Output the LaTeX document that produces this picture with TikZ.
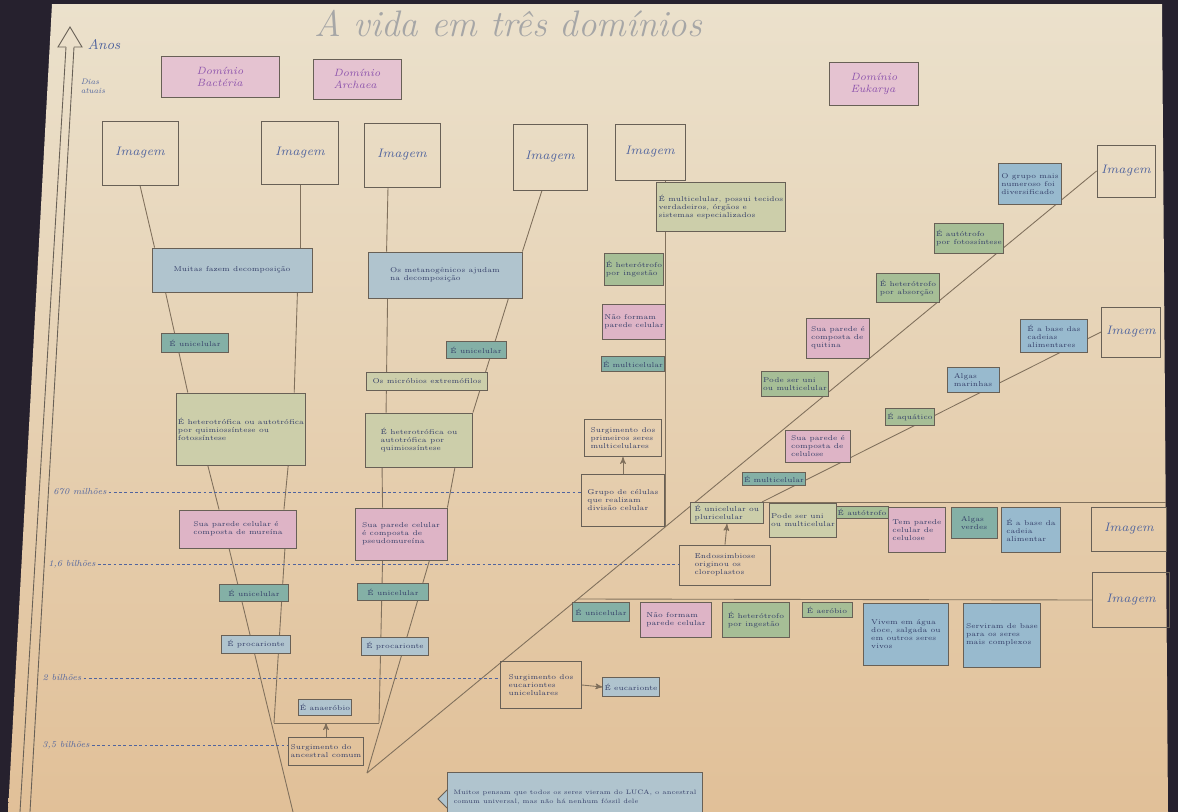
\documentclass[tikz,border=0pt]{standalone}
\usepackage{tikz}
\usetikzlibrary{arrows,calc}
\pgfdeclarelayer{paper}
\pgfdeclarelayer{lines}
\pgfsetlayers{paper,lines,main}

\definecolor{frame}{RGB}{38,33,46}
\definecolor{paperhi}{RGB}{235,225,204}
\definecolor{paperlo}{RGB}{225,192,152}
\definecolor{ink}{RGB}{52,62,104}
\definecolor{violet}{RGB}{140,82,172}
\definecolor{edge}{RGB}{104,96,86}
\definecolor{wire}{RGB}{128,112,92}
\definecolor{timeink}{RGB}{80,100,158}
\definecolor{pinkfill}{RGB}{222,180,198}
\definecolor{bluefill}{RGB}{152,186,206}
\definecolor{greenfill}{RGB}{166,190,150}
\definecolor{tealfill}{RGB}{132,176,166}
\definecolor{olivefill}{RGB}{204,206,170}
\definecolor{greyfill}{RGB}{176,196,206}

\begin{document}
\begin{tikzpicture}[x=0.02cm,y=-0.02cm,>=stealth',thin,
                    sz/.style 2 args={minimum width=#1*0.02cm,minimum height=#2*0.02cm}]
  \tikzstyle{every node}=[font=\fontsize{4}{4.6}\selectfont,text=ink]
  \tikzstyle{box}=[draw=edge,line width=0.5pt,inner sep=1pt,align=left]
  \tikzstyle{pinkbox}=[box,fill=pinkfill]
  \tikzstyle{bluebox}=[box,fill=bluefill]
  \tikzstyle{greenbox}=[box,fill=greenfill]
  \tikzstyle{tealbox}=[box,fill=tealfill]
  \tikzstyle{olivebox}=[box,fill=olivefill]
  \tikzstyle{greybox}=[box,fill=greyfill]
  \tikzstyle{plainbox}=[box]
  \tikzstyle{imgbox}=[box,font=\fontsize{7}{8}\selectfont\itshape,text=timeink]
  \tikzstyle{domainbox}=[box,fill=pinkfill!80,font=\fontsize{6}{6.6}\selectfont\itshape,text=violet]
  \tikzstyle{timelabel}=[font=\fontsize{5}{6}\selectfont\itshape,text=timeink,inner sep=1pt]
  \tikzstyle{dotline}=[timeink,line width=0.5pt,dash pattern=on 1.6pt off 1.4pt]
  \tikzstyle{link}=[wire,line width=0.5pt]

  \useasboundingbox (0,0) rectangle (1178,812);

  % photo of the poster
  \begin{pgfonlayer}{paper}
    \fill[frame] (0,0) rectangle (1178,812);
    \shade[top color=paperhi,bottom color=paperlo] (52,4) -- (1162,4) -- (1168,812) -- (8,812) -- cycle;
  \end{pgfonlayer}

  \node[font=\fontsize{21}{24}\selectfont\itshape,text=black!35] (title) at (508,24) {A vida em três domínios};

  % time axis
  \draw[edge,line width=0.5pt] (66,47) -- (20,812) (74,47) -- (30,812);
  \draw[edge,line width=0.5pt] (66,47) -- (58,47) -- (70,27) -- (82,47) -- (74,47);
  \node[timelabel,font=\fontsize{8}{9}\selectfont\itshape] (anos) at (104,45) {Anos};
  \node[timelabel,align=left,font=\fontsize{4.5}{5}\selectfont\itshape] (hoje) at (93,86) {Dias\\atuais};
  \node[timelabel] (t670) at (80,492) {670 milhões};
  \node[timelabel] (t16)  at (72,564) {1,6 bilhões};
  \node[timelabel] (t2)   at (62,678) {2 bilhões};
  \node[timelabel] (t35)  at (66,745) {3,5 bilhões};

  % domains
  \node[domainbox,sz={118}{41}] (dbac) at (220,77) {Domínio\\Bactéria};
  \node[domainbox,sz={88}{40}]  (darc) at (357,79) {Domínio\\Archaea};
  \node[domainbox,sz={89}{43}]  (deuk) at (874,84) {Domínio\\Eukarya};

  % pictures
  \node[imgbox,sz={76}{64}] (i1) at (140,153) {Imagem};
  \node[imgbox,sz={77}{63}] (i2) at (300,153) {Imagem};
  \node[imgbox,sz={76}{64}] (i3) at (402,155) {Imagem};
  \node[imgbox,sz={74}{66}] (i4) at (550,157) {Imagem};
  \node[imgbox,sz={70}{56}] (i5) at (650,152) {Imagem};
  \node[imgbox,sz={58}{52}] (i6) at (1126,171) {Imagem};
  \node[imgbox,sz={59}{50}] (i7) at (1131,332) {Imagem};
  \node[imgbox,sz={75}{44}] (i8) at (1129,529) {Imagem};
  \node[imgbox,sz={77}{55}] (i9) at (1131,600) {Imagem};

  % Bacteria
  \node[greybox,sz={160}{44}]  (b1)  at (232,270) {Muitas fazem decomposição};
  \node[tealbox,sz={67}{19}]   (bu1) at (195,343) {É unicelular};
  \node[olivebox,sz={126}{72}] (b2)  at (241,429) {É heterotrófica ou autotrófica\\por quimiossíntese ou\\fotossíntese};
  \node[pinkbox,sz={117}{38}]  (b3)  at (238,529) {Sua parede celular é\\composta de mureína};
  \node[tealbox,sz={69}{17}]   (bu2) at (254,593) {É unicelular};
  \node[greybox,sz={69}{18}]   (bp)  at (256,644) {É procarionte};

  % Archaea
  \node[greybox,sz={154}{46}]  (a1)  at (445,275) {Os metanogênicos ajudam\\na decomposição};
  \node[tealbox,sz={60}{17}]   (au1) at (476,350) {É unicelular};
  \node[olivebox,sz={121}{18}] (ax)  at (427,381) {Os micróbios extremófilos};
  \node[olivebox,sz={107}{54}] (a2)  at (419,440) {É heterotrófica ou\\autotrófica por\\quimiossíntese};
  \node[pinkbox,sz={92}{52}]   (a3)  at (401,534) {Sua parede celular\\é composta de\\pseudomureína};
  \node[tealbox,sz={71}{17}]   (au2) at (393,592) {É unicelular};
  \node[greybox,sz={67}{18}]   (ap)  at (395,646) {É procarionte};

  % common ancestor
  \node[greybox,sz={50}{16}]   (anaer) at (325,707) {É anaeróbio};
  \node[plainbox,sz={75}{28}]  (luca)  at (326,751) {Surgimento do\\ancestral comum};
  \coordinate (barL)  at (274,723);
  \coordinate (barR)  at (379,723);
  \coordinate (bbot)  at (293,812);
  \coordinate (split) at (367,773);

  % Eukarya, first branch
  \node[olivebox,sz={116}{49}] (etop) at (721,207) {É multicelular, possui tecidos\\verdadeiros, órgãos e\\sistemas especializados};
  \node[greenbox,sz={55}{32}]  (e1) at (634,269) {É heterótrofo\\por ingestão};
  \node[pinkbox,sz={55}{35}]   (e2) at (634,322) {Não formam\\parede celular};
  \node[tealbox,sz={57}{15}]   (e3) at (633,364) {É multicelular};
  \node[plainbox,sz={77}{37}]  (e4) at (623,438) {Surgimento dos\\primeiros seres\\multicelulares};
  \node[plainbox,sz={83}{52}]  (e5) at (623,500) {Grupo de células\\que realizam\\divisão celular};
  \coordinate (ev)  at (665,527);
  \coordinate (h1s) at (696,502);
  \coordinate (h1e) at (1166,502);
  \coordinate (h2s) at (578,599);
  \coordinate (d2s) at (762,502);

  % along the long diagonal
  \node[bluebox,sz={63}{41}]  (d1) at (1030,184) {O grupo mais\\numeroso foi\\diversificado};
  \node[greenbox,sz={62}{30}] (d2) at (969,238) {É autótrofo\\por fotossíntese};
  \node[greenbox,sz={63}{29}] (d3) at (908,288) {É heterótrofo\\por absorção};
  \node[pinkbox,sz={63}{40}]  (d4) at (838,338) {Sua parede é\\composta de\\quitina};
  \node[greenbox,sz={54}{25}] (d5) at (795,384) {Pode ser uni\\ou multicelular};
  \node[pinkbox,sz={65}{32}]  (d6) at (818,446) {Sua parede é\\composta de\\celulose};
  \node[tealbox,sz={55}{13}]  (d7) at (774,479) {É multicelular};

  % along the second diagonal
  \node[bluebox,sz={67}{33}]  (f1) at (1054,336) {É a base das\\cadeias\\alimentares};
  \node[bluebox,sz={52}{25}]  (f2) at (973,380) {Algas\\marinhas};
  \node[greenbox,sz={41}{17}] (f3) at (910,417) {É aquático};

  % under the upper horizontal branch
  \node[olivebox,sz={73}{21}] (g1) at (727,513) {É unicelular ou\\pluricelular};
  \node[olivebox,sz={63}{34}] (g2) at (803,520) {Pode ser uni\\ou multicelular};
  \node[greenbox,sz={42}{12}] (g3) at (862,512) {É autótrofo};
  \node[pinkbox,sz={57}{45}]  (g4) at (917,530) {Tem parede\\celular de\\celulose};
  \node[tealbox,sz={46}{31}]  (g5) at (974,523) {Algas\\verdes};
  \node[bluebox,sz={59}{45}]  (g6) at (1031,530) {É a base da\\cadeia\\alimentar};
  \node[plainbox,sz={91}{40}] (endo) at (725,565) {Endossimbiose\\originou os\\cloroplastos};

  % under the lower horizontal branch
  \node[tealbox,sz={57}{19}]  (k1) at (601,612) {É unicelular};
  \node[pinkbox,sz={71}{35}]  (k2) at (676,620) {Não formam\\parede celular};
  \node[greenbox,sz={67}{35}] (k3) at (756,620) {É heterótrofo\\por ingestão};
  \node[greenbox,sz={50}{15}] (k4) at (827,610) {É aeróbio};
  \node[bluebox,sz={85}{62}]  (k5) at (906,634) {Vivem em água\\doce, salgada ou\\em outros seres\\vivos};
  \node[bluebox,sz={77}{64}]  (k6) at (1002,635) {Serviram de base\\para os seres\\mais complexos};
  \node[plainbox,sz={81}{47}] (se) at (541,685) {Surgimento dos\\eucariontes\\unicelulares};
  \node[greybox,sz={52}{19}]  (ee) at (631,687) {É eucarionte};

  \node[greybox,sz={255}{50},anchor=north,inner sep=3pt,font=\fontsize{3.6}{5}\selectfont] (note) at (575,772)
    {Muitos pensam que todos os seres vieram do LUCA, o ancestral\\comum universal, mas não há nenhum fóssil dele};
  \filldraw[draw=edge,fill=greyfill,line width=0.5pt] ($(note.north west)+(0,18)$) -- ($(note.north west)+(-9,27)$) -- ($(note.north west)+(0,36)$);

  \begin{pgfonlayer}{lines}
    % Bacteria
    \draw[link] (i1.south) -- ($(b1.north west)+(3,0)$);
    \draw[link] (i2.south) -- (i2.south |- b1.north);
    \draw[link] ($(b1.south west)+(14,0)$) -- ($(b2.north west)+(12,0)$);
    \draw[link] ($(b1.south east)+(-15,0)$) -- ($(b2.north east)+(-12,0)$);
    \draw[link] ($(b2.south west)+(32,0)$) -- ($(b3.north west)+(40,0)$);
    \draw[link] ($(b2.south east)+(-18,0)$) -- ($(b3.north east)+(-13,0)$);
    \draw[link] ($(b3.south west)+(50,0)$) -- (bbot);
    \draw[link] ($(b3.south east)+(-12,0)$) -- (barL);
    % Archaea
    \draw[link] ($(i3.south)+(-14,0)$) -- ($(a1.north west)+(19,0)$);
    \draw[link] ($(i4.south)+(-8,0)$) -- (a1.north east);
    \draw[link] ($(a1.south west)+(20,0)$) -- ($(a2.north west)+(21,0)$);
    \draw[link] ($(a1.south east)+(-14,0)$) -- (a2.north east);
    \draw[link] ($(a2.south west)+(17,0)$) -- ($(a3.north west)+(28,0)$);
    \draw[link] ($(a2.south east)+(-18,0)$) -- (a3.north east);
    \draw[link] ($(a3.south west)+(28,0)$) -- (barR);
    \draw[link] ($(a3.south east)+(-18,0)$) -- (split);
    % ancestor
    \draw[link] (barL) -- (barR);
    \draw[link,->] (luca.north) -- (luca.north |- barL);
    % Eukarya
    \draw[link] (split) -- (i6.west);
    \draw[link] (ev) -- ($(i5.south)+(15,0)$);
    \draw[link] (h1s) -- (h1e);
    \draw[link] (h2s) -- (i9.west);
    \draw[link] (d2s) -- (i7.west);
    \draw[link,->] (e5.north) -- (e4.south);
    \draw[link,->] (endo.north) -- (g1.south);
    \draw[link,->] (se.east) -- (ee.west);
    % time marks
    \draw[dotline] (t670.east) -- (t670.east -| e5.west);
    \draw[dotline] (t16.east)  -- (t16.east -| endo.west);
    \draw[dotline] (t2.east)   -- (t2.east -| se.west);
    \draw[dotline] (t35.east)  -- (t35.east -| luca.west);
  \end{pgfonlayer}
\end{tikzpicture}
\end{document}
